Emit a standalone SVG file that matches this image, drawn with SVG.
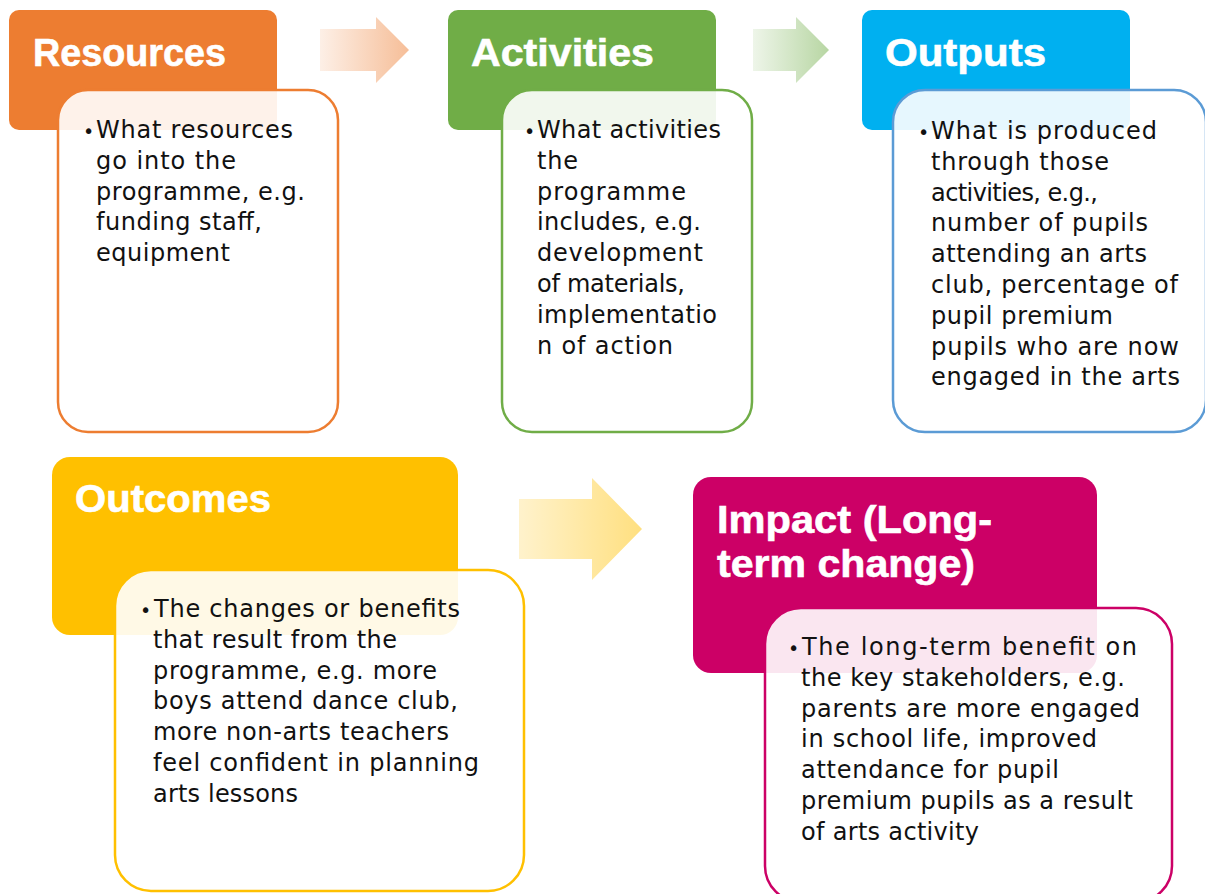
<svg xmlns="http://www.w3.org/2000/svg" width="1205" height="894" viewBox="0 0 1205 894">
  <defs>
    <linearGradient id="gradOrange" x1="0" y1="0" x2="1" y2="0">
      <stop offset="0" stop-color="#ED7D31" stop-opacity="0.12"/>
      <stop offset="1" stop-color="#ED7D31" stop-opacity="0.5"/>
    </linearGradient>
    <linearGradient id="gradGreen" x1="0" y1="0" x2="1" y2="0">
      <stop offset="0" stop-color="#70AD47" stop-opacity="0.12"/>
      <stop offset="1" stop-color="#70AD47" stop-opacity="0.5"/>
    </linearGradient>
    <linearGradient id="gradYellow" x1="0" y1="0" x2="1" y2="0">
      <stop offset="0" stop-color="#FFC000" stop-opacity="0.2"/>
      <stop offset="1" stop-color="#FFC000" stop-opacity="0.5"/>
    </linearGradient>
  </defs>
  <style>
    .title { font-family: "Liberation Sans", Arial, sans-serif; font-weight: bold; font-size: 39px; fill: #ffffff; stroke: #ffffff; stroke-width: 0.6; }
    .body { font-family: "DejaVu Sans", "Liberation Sans", sans-serif; font-size: 24px; fill: #111111; }
    .bullet { font-family: "DejaVu Sans", sans-serif; font-size: 19px; fill: #111111; }
    .card { fill: #ffffff; fill-opacity: 0.9; stroke-width: 2.5; }
  </style>
  <rect width="1205" height="894" fill="#ffffff"/>

  <!-- flow arrows -->
  <g id="connectors">
    <polygon points="320,29 376,29 376,17 409,50 376,83 376,71 320,71" fill="url(#gradOrange)"/>
    <polygon points="753,29 796,29 796,17 829,50 796,83 796,71 753,71" fill="url(#gradGreen)"/>
    <polygon points="519,499 592,499 592,478 642,529 592,580 592,559 519,559" fill="url(#gradYellow)"/>
  </g>

  <!-- Resources -->
  <g id="resources">
    <rect x="9" y="10" width="268" height="120" rx="10" fill="#ED7D31"/>
    <text class="title" x="33" y="66" textLength="193" lengthAdjust="spacingAndGlyphs">Resources</text>
    <rect class="card" x="58" y="90" width="280" height="342" rx="30" stroke="#ED7D31"/>
    <text class="bullet" x="83" y="138">•</text>
    <text class="body">
      <tspan x="96" y="138" textLength="197">What resources</tspan>
      <tspan x="96" y="168.8" textLength="140">go into the</tspan>
      <tspan x="96" y="199.6" textLength="209">programme, e.g.</tspan>
      <tspan x="96" y="230.4" textLength="166">funding staff,</tspan>
      <tspan x="96" y="261.2" textLength="134">equipment</tspan>
    </text>
  </g>

  <!-- Activities -->
  <g id="activities">
    <rect x="448" y="10" width="268" height="120" rx="10" fill="#70AD47"/>
    <text class="title" x="471" y="66" textLength="183" lengthAdjust="spacingAndGlyphs">Activities</text>
    <rect class="card" x="502" y="90" width="250" height="342" rx="30" stroke="#70AD47"/>
    <text class="bullet" x="524" y="138">•</text>
    <text class="body">
      <tspan x="537" y="138" textLength="184">What activities</tspan>
      <tspan x="537" y="168.8" textLength="41">the</tspan>
      <tspan x="537" y="199.6" textLength="149">programme</tspan>
      <tspan x="537" y="230.4" textLength="164">includes, e.g.</tspan>
      <tspan x="537" y="261.2" textLength="166">development</tspan>
      <tspan x="537" y="292" textLength="148">of materials,</tspan>
      <tspan x="537" y="322.8" textLength="180">implementatio</tspan>
      <tspan x="537" y="353.6" textLength="136">n of action</tspan>
    </text>
  </g>

  <!-- Outputs -->
  <g id="outputs">
    <rect x="862" y="10" width="268" height="120" rx="10" fill="#00B0F0"/>
    <text class="title" x="885" y="66" textLength="161" lengthAdjust="spacingAndGlyphs">Outputs</text>
    <rect class="card" x="893" y="90" width="313" height="342" rx="32" stroke="#5B9BD5"/>
    <text class="bullet" x="918" y="139">•</text>
    <text class="body">
      <tspan x="931" y="139" textLength="226">What is produced</tspan>
      <tspan x="931" y="169.8" textLength="178">through those</tspan>
      <tspan x="931" y="200.6" textLength="167">activities, e.g.,</tspan>
      <tspan x="931" y="231.4" textLength="217">number of pupils</tspan>
      <tspan x="931" y="262.2" textLength="216">attending an arts</tspan>
      <tspan x="931" y="293" textLength="247">club, percentage of</tspan>
      <tspan x="931" y="323.8" textLength="182">pupil premium</tspan>
      <tspan x="931" y="354.6" textLength="248">pupils who are now</tspan>
      <tspan x="931" y="385.4" textLength="249">engaged in the arts</tspan>
    </text>
  </g>

  <!-- Outcomes -->
  <g id="outcomes">
    <rect x="52" y="457" width="406" height="178" rx="18" fill="#FFC000"/>
    <text class="title" x="75" y="512" textLength="196" lengthAdjust="spacingAndGlyphs">Outcomes</text>
    <rect class="card" x="115" y="570" width="409" height="321" rx="36" stroke="#FFC000"/>
    <text class="bullet" x="140" y="617">•</text>
    <text class="body">
      <tspan x="154" y="617" textLength="306">The changes or benefits</tspan>
      <tspan x="153" y="647.8" textLength="244">that result from the</tspan>
      <tspan x="153" y="678.6" textLength="284">programme, e.g. more</tspan>
      <tspan x="153" y="709.4" textLength="305">boys attend dance club,</tspan>
      <tspan x="153" y="740.2" textLength="296">more non-arts teachers</tspan>
      <tspan x="153" y="771" textLength="326">feel confident in planning</tspan>
      <tspan x="153" y="801.8" textLength="145">arts lessons</tspan>
    </text>
  </g>

  <!-- Impact -->
  <g id="impact">
    <rect x="693" y="477" width="404" height="196" rx="18" fill="#CC0066"/>
    <text class="title" x="717" y="533" textLength="275" lengthAdjust="spacingAndGlyphs">Impact (Long-</text>
    <text class="title" x="717" y="577" textLength="258" lengthAdjust="spacingAndGlyphs">term change)</text>
    <rect class="card" x="765" y="608" width="407" height="294" rx="36" stroke="#CC0066"/>
    <text class="bullet" x="788" y="655">•</text>
    <text class="body">
      <tspan x="802" y="655" textLength="335">The long-term benefit on</tspan>
      <tspan x="801" y="685.8" textLength="324">the key stakeholders, e.g.</tspan>
      <tspan x="801" y="716.6" textLength="339">parents are more engaged</tspan>
      <tspan x="801" y="747.4" textLength="296">in school life, improved</tspan>
      <tspan x="801" y="778.2" textLength="258">attendance for pupil</tspan>
      <tspan x="801" y="809" textLength="332">premium pupils as a result</tspan>
      <tspan x="801" y="839.8" textLength="178">of arts activity</tspan>
    </text>
  </g>
</svg>
